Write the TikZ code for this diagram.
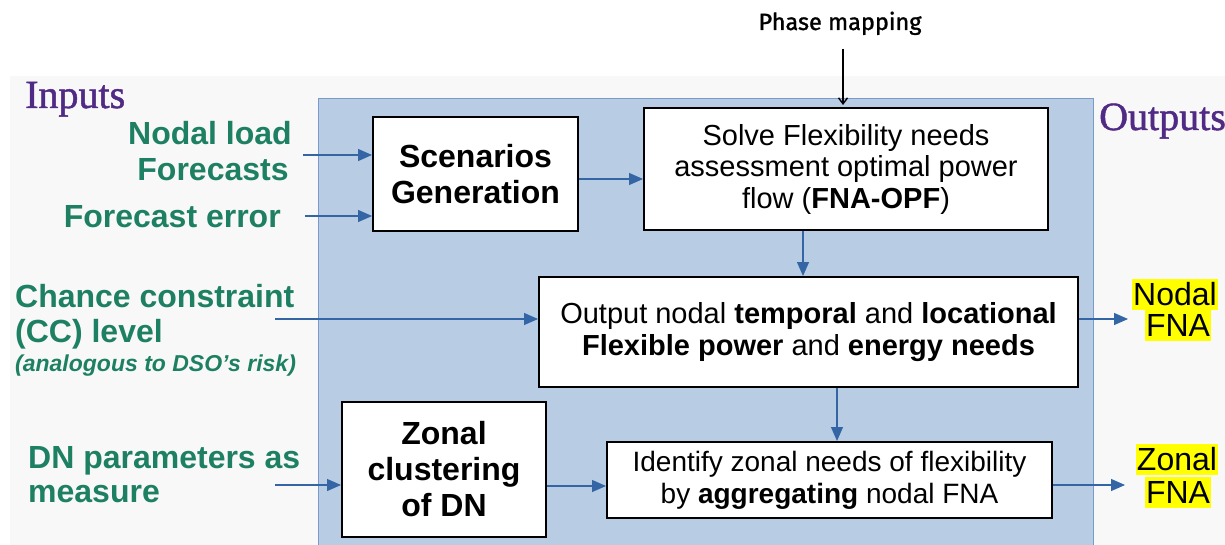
\documentclass[tikz,border=0pt]{standalone}
\usepackage{fontspec}
\setmainfont{Liberation Sans}
\newfontfamily\headfont[FakeBold=1.2]{Liberation Serif}
\newfontfamily\notefont[FakeBold=1.2]{Fira Sans}
\usetikzlibrary{arrows.meta}

\definecolor{panelfill}{RGB}{184,204,228}
\definecolor{panelline}{RGB}{120,155,204}
\definecolor{flowblue}{RGB}{52,101,164}
\definecolor{inputgreen}{RGB}{30,128,98}
\definecolor{headpurple}{RGB}{80,42,132}
\definecolor{pagegray}{RGB}{248,248,248}
\definecolor{hl}{RGB}{255,255,0}

\tikzset{
  stepbox/.style={draw=black, line width=2pt, fill=white, align=center, inner sep=0pt},
  boldbox/.style={stepbox, font=\fontsize{32}{36}\selectfont\bfseries},
  textbox/.style={stepbox, font=\fontsize{29}{31.5}\selectfont},
  flow/.style={draw=flowblue, line width=1.2pt, -{Triangle[length=14pt,width=12pt]}},
  inlabel/.style={text=inputgreen, font=\fontsize{32}{36}\selectfont\bfseries, inner sep=0pt},
  head/.style={text=headpurple, font=\fontsize{40}{44}\selectfont\headfont, inner sep=0pt},
  outlabel/.style={fill=hl, font=\fontsize{32}{36}\selectfont, inner xsep=1pt, inner ysep=0pt, text height=26pt, text depth=5pt},
}

\begin{document}
\begin{tikzpicture}[x=1pt, y=-1pt]
\useasboundingbox (0,0) rectangle (1225,545);

% page background and the process panel
\fill[white] (0,0) rectangle (1225,545);
\fill[pagegray] (10,76) rectangle (1225,545);
\draw[fill=panelfill, draw=panelline, line width=1.5pt] (318.5,98.5) -- (318.5,546) -- (1093.5,546) -- (1093.5,98.5) -- cycle;

% headings
\node[head, anchor=base west] (inputs) at (25,108) {Inputs};
\node[head, anchor=base west] (outputs) at (1099,130) {Outputs};

% process steps
\node[boldbox, minimum width=205pt, minimum height=114pt] (scen) at (475.5,174) {Scenarios\\Generation};
\node[textbox, minimum width=404pt, minimum height=122pt] (solve) at (846,169)
  {Solve Flexibility needs\\assessment optimal power\\flow (\textbf{FNA-OPF})};
\node[textbox, minimum width=539pt, minimum height=110pt] (nodal) at (808.5,332)
  {Output nodal \textbf{temporal} and \textbf{locational}\\\textbf{Flexible power} and \textbf{energy needs}};
\node[boldbox, minimum width=204pt, minimum height=135pt] (zonal) at (444,469.5) {Zonal\\clustering\\of DN};
\node[textbox, font=\fontsize{28}{32}\selectfont, minimum width=445pt, minimum height=76pt] (ident) at (829.5,480)
  {Identify zonal needs of flexibility\\by \textbf{aggregating} nodal FNA};

% inputs
\node[inlabel, anchor=base] (load1) at (210,145) {Nodal load};
\node[inlabel, anchor=base] (load2) at (213,181) {Forecasts};
\node[inlabel, anchor=base east] (ferr) at (281,228) {Forecast error};
\node[inlabel, anchor=base west] (cc1) at (15,307) {Chance constraint};
\node[inlabel, anchor=base west] (cc2) at (15,342) {(CC) level};
\node[inlabel, anchor=base west, font=\fontsize{23}{26}\selectfont\bfseries\itshape] (cc3) at (15,371) {(analogous to DSO’s risk)};
\node[inlabel, anchor=base west] (dn1) at (28,468) {DN parameters as};
\node[inlabel, anchor=base west] (dn2) at (28,502) {measure};

% outputs
\node[outlabel, anchor=base] (nfna1) at (1175,305) {Nodal};
\node[outlabel, anchor=base] (nfna2) at (1178,336) {FNA};
\node[outlabel, anchor=base] (zfna1) at (1177,470) {Zonal};
\node[outlabel, anchor=base] (zfna2) at (1178,503) {FNA};

% phase mapping input
\node[font=\fontsize{23.5}{26}\selectfont\notefont, anchor=base] (phase) at (840,30) {Phase mapping};
\coordinate (phasetip) at (843,105);
\draw[line width=1.4pt, -{Straight Barb[length=6pt,width=9pt]}] ([yshift=-10pt]phase.south -| phasetip) -- (phasetip);

% free ends of the input and output arrows
\coordinate (inA) at (303,155);
\coordinate (inB) at (305,216);
\coordinate (inC) at (275,319);
\coordinate (inD) at (275,485);
\coordinate (outA) at (1128,319);
\coordinate (outB) at (1125,485);

% connectors
\draw[flow] (inA) -- (inA -| scen.west);
\draw[flow] (inB) -- (inB -| scen.west);
\draw[flow] ([yshift=-5pt]scen.east) -- ([yshift=-5pt]scen.east -| solve.west);
\draw[flow] ([xshift=-43pt]solve.south) -- ([xshift=-43pt]solve.south |- nodal.north);
\draw[flow] (inC) -- (inC -| nodal.west);
\draw[flow] (inC -| nodal.east) -- (outA);
\draw[flow] ([xshift=28.5pt]nodal.south) -- ([xshift=28.5pt]nodal.south |- ident.north);
\draw[flow] (inD) -- (inD -| zonal.west);
\draw[flow] ([yshift=-6pt]ident.west -| zonal.east) -- ([yshift=-6pt]ident.west);
\draw[flow] (outB -| ident.east) -- (outB);
\end{tikzpicture}
\end{document}
